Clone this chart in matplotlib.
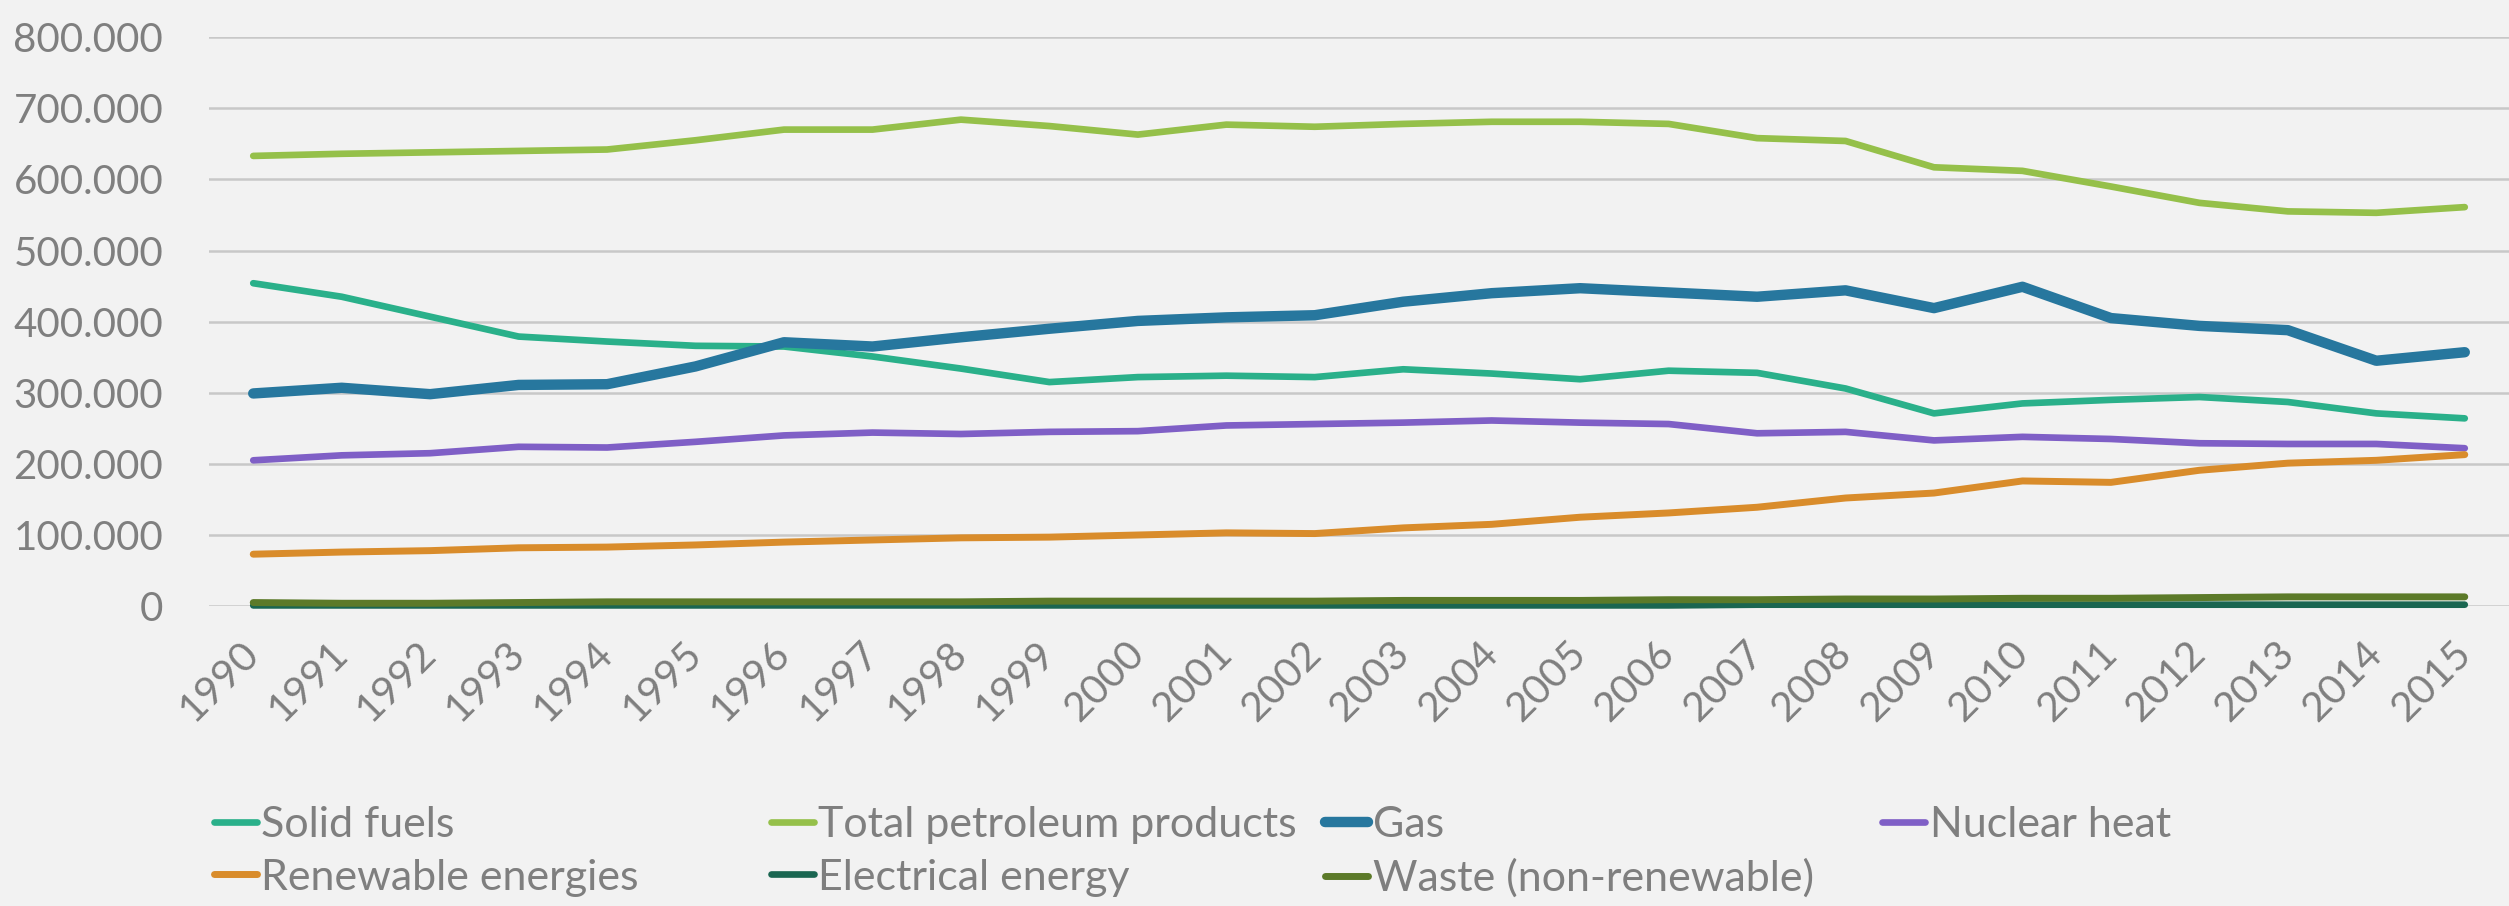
import matplotlib
matplotlib.use('Agg')
import matplotlib.pyplot as plt
from matplotlib.ticker import FuncFormatter

plt.rcParams['font.family'] = ['Lato', 'DejaVu Sans']

years = list(range(1990, 2016))

solid_fuels = [454, 435, 407, 379, 372, 366, 365, 351, 334, 315, 322, 324, 322, 333, 327,
               319, 331, 328, 306, 271, 285, 290, 294, 287, 271, 264]
petroleum = [633, 636, 638, 640, 642, 655, 670, 670, 684, 675, 663, 677, 674, 678, 681,
             681, 678, 658, 654, 617, 612, 590, 567, 555, 553, 561]
gas = [299, 307, 298, 311, 312, 337, 371, 365, 378, 390, 401, 406, 409, 428, 440,
       447, 441, 435, 444, 419, 449, 405, 394, 388, 345, 357]
nuclear = [205, 212, 215, 224, 223, 231, 240, 244, 242, 245, 246, 254, 256, 258, 261,
           258, 256, 243, 245, 233, 238, 235, 229, 228, 228, 222]
renewables = [73, 76, 78, 82, 83, 86, 90, 93, 96, 97, 100, 103, 102, 110, 115,
              125, 131, 139, 152, 159, 176, 174, 191, 201, 205, 213]
electrical = [1, 1, 1, 1, 1, 1, 1, 1, 1, 1, 1, 1, 1, 1, 1,
              1, 1, 2, 2, 2, 2, 2, 2, 2, 2, 2]
waste = [5, 4, 4, 5, 6, 6, 6, 6, 6, 7, 7, 7, 7, 8, 8,
         8, 9, 9, 10, 10, 11, 11, 12, 13, 13, 13]

# values are in thousands
series = [
    ('Solid fuels', solid_fuels, '#2ab08a', 4.8),
    ('Total petroleum products', petroleum, '#95c04a', 4.8),
    ('Gas', gas, '#27779e', 7.5),
    ('Nuclear heat', nuclear, '#7f5fc6', 4.8),
    ('Renewable energies', renewables, '#d98c2b', 5.0),
    ('Electrical energy', electrical, '#1a6651', 4.8),
    ('Waste (non-renewable)', waste, '#5c7a29', 5.0),
]

bg = '#f2f2f2'
txt = '#7f7f7f'

fig = plt.figure(figsize=(25.09, 9.06), dpi=100, facecolor=bg)
ax = fig.add_axes([0.0833, 0.331, 0.9167, 0.628])
ax.set_facecolor(bg)

x = list(range(len(years)))
handles = {}
for name, vals, col, lw in series:
    ln, = ax.plot(x, [v * 1000 for v in vals], color=col, lw=lw, solid_capstyle='round',
                  solid_joinstyle='round', clip_on=False, label=name)
    handles[name] = ln

ax.set_ylim(0, 800000)
ax.set_yticks(range(0, 800001, 100000))
ax.yaxis.set_major_formatter(FuncFormatter(lambda v, p: f"{int(v):,}".replace(',', '.')))
ax.set_xlim(-0.5, len(years) - 0.5)
ax.set_xticks(x)
ax.set_xticklabels([str(y) for y in years], rotation=45, ha='right', va='center',
                   rotation_mode='anchor')

ax.grid(axis='y', color='#c8c8c8', lw=1.8)
ax.set_axisbelow(True)
for s in ax.spines.values():
    s.set_visible(False)
ax.tick_params(axis='y', length=0, pad=33, labelsize=29, labelcolor=txt)
ax.tick_params(axis='x', length=0, pad=30, labelsize=29.5, labelcolor=txt)

# legend: 4 equal columns, filled row by row
cols = [['Solid fuels', 'Renewable energies'],
        ['Total petroleum products', 'Electrical energy'],
        ['Gas', 'Waste (non-renewable)'],
        ['Nuclear heat']]
col_x = [0.0852, 0.3072, 0.5282, 0.7502]
for cx, names in zip(col_x, cols):
    fig.legend([handles[n] for n in names], names, loc='upper left',
               bbox_to_anchor=(cx, 0.110), bbox_transform=fig.transFigure,
               frameon=False, fontsize=31, labelcolor=txt, handlelength=1.0,
               handletextpad=0.1, labelspacing=0.33, borderaxespad=0, borderpad=0)

fig.savefig('out.png', dpi=100, facecolor=bg)
